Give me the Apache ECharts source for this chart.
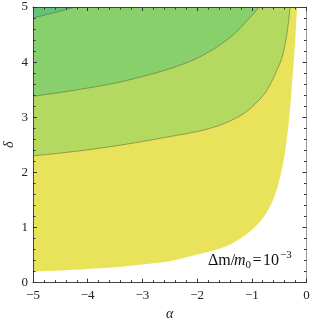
<!DOCTYPE html>
<html>
<head>
<meta charset="utf-8">
<script src="https://cdn.jsdelivr.net/npm/echarts@6/dist/echarts.min.js"></script>
<style>
html,body{margin:0;padding:0;background:#fff;}
#chart{width:312px;height:324px;}
</style>
</head>
<body>
<div id="chart"></div>
<script>
// Tick labels
const xTicks = [-5, -4, -3, -2, -1, 0];
const yTicks = [0, 1, 2, 3, 4, 5];

// Boundary white / yellow (domain edge)
const edgeAlpha = [-5, -4.5, -4, -3.5, -3, -2.5, -2, -1.75, -1.49, -1.25, -1, -0.82, -0.667, -0.545, -0.466, -0.405, -0.362, -0.32, -0.28, -0.24, -0.2, -0.17];
const edgeDelta = [0.2, 0.22, 0.25, 0.28, 0.33, 0.39, 0.51, 0.57, 0.65, 0.775, 0.956, 1.14, 1.38, 1.68, 1.985, 2.29, 2.59, 2.95, 3.4, 3.92, 4.5, 5.0];

// Contour yellow / light green
const c1Alpha = [-5, -4.5, -4, -3.5, -3, -2.5, -2, -1.6, -1.3, -1.1, -0.9, -0.75, -0.62, -0.52, -0.45, -0.4, -0.36, -0.33, -0.3];
const c1Delta = [2.3, 2.35, 2.41, 2.48, 2.56, 2.65, 2.74, 2.85, 2.98, 3.1, 3.28, 3.45, 3.68, 3.9, 4.07, 4.28, 4.5, 4.72, 5.0];

// Contour light green / green
const c2Alpha = [-5, -4.5, -4, -3.5, -3, -2.5, -2, -1.6, -1.3, -1.1, -0.95, -0.87];
const c2Delta = [3.38, 3.45, 3.53, 3.62, 3.74, 3.88, 4.07, 4.3, 4.53, 4.74, 4.9, 5.0];

// Contour green / dark green
const c3Alpha = [-5, -4.6, -4.22];
const c3Delta = [4.8, 4.9, 5.0];

const fills = ['#E8E35A', '#B4D960', '#88D06C', '#63C377'];
const lineCol = 'rgba(90,100,60,0.55)';
const serif = '"Liberation Serif", "DejaVu Serif", serif';

function pairs(a, d) { return a.map((v, i) => [v, d[i]]); }
function minus(v) { return String(v).replace('-', '\u2212'); }

const chart = echarts.init(document.getElementById('chart'), null, {renderer: 'canvas'});

function areaSeries(a, d, color, showLine) {
  return {
    type: 'line',
    data: pairs(a, d),
    showSymbol: false,
    symbol: 'none',
    smooth: 0.3,
    lineStyle: showLine ? {color: lineCol, width: 1} : {width: 0, opacity: 0},
    areaStyle: {origin: 'end', color: color, opacity: 1},
    silent: true,
    animation: false
  };
}

const axisCommon = {
  type: 'value',
  splitLine: {show: false},
  axisTick: {show: true, inside: true, length: 4, lineStyle: {color: '#333', width: 1}},
  minorTick: {show: true, splitNumber: 5, length: 2.5, lineStyle: {color: '#333', width: 1}},
  z: 10
};

const option = {
  animation: false,
  backgroundColor: '#fff',
  grid: {left: 33, right: 5.5, top: 7, bottom: 41.3, containLabel: false, outerBoundsMode: 'none'},
  xAxis: [
    Object.assign({}, axisCommon, {
      position: 'bottom',
      min: xTicks[0], max: xTicks[xTicks.length - 1], interval: 1,
      axisLine: {show: true, onZero: false, lineStyle: {color: '#444', width: 1}},
      axisLabel: {show: true, fontFamily: serif, fontSize: 13, color: '#222', margin: 6, formatter: minus},
      name: '\u03b1', nameLocation: 'middle', nameGap: 25, nameMoveOverlap: false,
      nameTextStyle: {fontFamily: serif, fontStyle: 'italic', fontSize: 14, color: '#222'}
    }),
    Object.assign({}, axisCommon, {
      position: 'top',
      min: xTicks[0], max: xTicks[xTicks.length - 1], interval: 1,
      axisLine: {show: true, onZero: false, lineStyle: {color: '#444', width: 1}},
      axisLabel: {show: false}
    })
  ],
  yAxis: [
    Object.assign({}, axisCommon, {
      position: 'left',
      min: yTicks[0], max: yTicks[yTicks.length - 1], interval: 1,
      axisLine: {show: true, onZero: false, lineStyle: {color: '#444', width: 1}},
      axisLabel: {show: true, fontFamily: serif, fontSize: 13, color: '#222', margin: 5, formatter: minus},
      name: '\u03b4', nameLocation: 'middle', nameGap: 17, nameRotate: 90, nameMoveOverlap: false,
      nameTextStyle: {fontFamily: serif, fontStyle: 'italic', fontSize: 14, color: '#222'}
    }),
    Object.assign({}, axisCommon, {
      position: 'right',
      min: yTicks[0], max: yTicks[yTicks.length - 1], interval: 1,
      axisLine: {show: true, onZero: false, lineStyle: {color: '#999', width: 1}},
      axisLabel: {show: false}
    })
  ],
  series: [
    areaSeries(edgeAlpha, edgeDelta, fills[0], false),
    areaSeries(c1Alpha, c1Delta, fills[1], true),
    areaSeries(c2Alpha, c2Delta, fills[2], true),
    areaSeries(c3Alpha, c3Delta, fills[3], true)
  ],
  graphic: [
    {type: 'text', x: 208, y: 261, style: {text: '\u0394m/', font: '16px ' + serif, fill: '#111', verticalAlign: 'middle'}},
    {type: 'text', x: 234, y: 261, style: {text: 'm', font: 'italic 16px ' + serif, fill: '#111', verticalAlign: 'middle'}},
    {type: 'text', x: 245.5, y: 265.5, style: {text: '0', font: '11px ' + serif, fill: '#111', verticalAlign: 'middle'}},
    {type: 'text', x: 252.5, y: 261, style: {text: '=', font: '16px ' + serif, fill: '#111', verticalAlign: 'middle'}},
    {type: 'text', x: 263, y: 261, style: {text: '10', font: '16px ' + serif, fill: '#111', verticalAlign: 'middle'}},
    {type: 'text', x: 280, y: 255.5, style: {text: '\u22123', font: '11px ' + serif, fill: '#111', verticalAlign: 'middle'}}
  ]
};

chart.setOption(option);
</script>
</body>
</html>
